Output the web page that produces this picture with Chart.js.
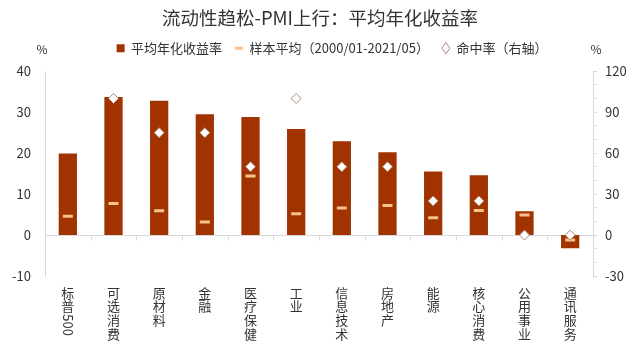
<!DOCTYPE html>
<html>
<head>
<meta charset="utf-8">
<script src="https://cdn.jsdelivr.net/npm/chart.js@4.4.0/dist/chart.umd.min.js"></script>
<style>
html,body{margin:0;padding:0;background:#fff;}
#wrap{width:640px;height:355px;position:relative;}
</style>
</head>
<body>
<div id="wrap"><canvas id="c" width="640" height="355"></canvas></div>
<script>
const categories = ['标普500','可选消费','原材料','金融','医疗保健','工业','信息技术','房地产','能源','核心消费','公用事业','通讯服务'];
const annualReturn = [19.9, 33.7, 32.8, 29.5, 28.8, 25.9, 22.9, 20.2, 15.5, 14.6, 5.8, -3.2];
const sampleAverage = [4.6, 7.7, 5.9, 3.2, 14.4, 5.2, 6.6, 7.2, 4.2, 6.0, 4.9, -1.2];
const hitRate = [null, 100, 75, 75, 50, 100, 50, 50, 25, 25, 0, 0];
const leftTicks = [-10, 0, 10, 20, 30, 40];
const rightTicks = [-30, 0, 30, 60, 90, 120];
const rightMinorTicks = [-30, -20, -10, 0, 10, 20, 30, 40, 50, 60, 70, 80, 90, 100, 110, 120];

const FONT = '"Noto Sans CJK SC", "Microsoft YaHei", sans-serif';
const TEXT = '#333333';
const AXIS = '#d9d9d9';
const LABEL_SIZE = 13;
const LABEL_LH = 1.05;
const X_PAD = 10;

// split labels into vertical stacks; the Latin digits of the first label are drawn rotated
function splitLabel(lbl) {
  const m = lbl.match(/^(\D+)(\d+)$/);
  return m ? { stack: Array.from(m[1]), rotated: m[2] } : { stack: Array.from(lbl), rotated: null };
}

const extras = {
  id: 'extras',
  beforeLayout(chart) {
    const lg = chart.legend;
    if (lg && !lg._patched) {
      const orig = lg.fit;
      lg.fit = function () {
        orig.call(this);
        this.height += 6.5;
        if (this.lineWidths) this.lineWidths = this.lineWidths.map(w => w - 24);
      };
      lg._patched = true;
    }
  },
  beforeDatasetsDraw(chart) {
    const ctx = chart.ctx;
    const x = chart.scales.x, y = chart.scales.y;
    const y0 = Math.round(y.getPixelForValue(0)) + 0.5;
    const area = chart.chartArea;
    ctx.save();
    ctx.strokeStyle = AXIS;
    ctx.lineWidth = 1;
    ctx.beginPath();
    ctx.moveTo(area.left, y0);
    ctx.lineTo(area.right, y0);
    for (let i = 1; i < categories.length; i++) {
      const px = Math.round((x.getPixelForValue(i - 1) + x.getPixelForValue(i)) / 2) + 0.5;
      ctx.moveTo(px, y0);
      ctx.lineTo(px, y0 + 5);
    }
    ctx.stroke();
    ctx.restore();
  },
  afterDraw(chart) {
    const ctx = chart.ctx;
    const x = chart.scales.x;
    ctx.save();
    ctx.fillStyle = TEXT;
    ctx.font = '12px ' + FONT;
    ctx.textAlign = 'center';
    ctx.textBaseline = 'middle';
    ctx.fillText('%', 42, 49);
    ctx.fillText('%', 596, 49);
    categories.forEach((c, i) => {
      const parts = splitLabel(c);
      if (!parts.rotated) return;
      const cx = x.getPixelForValue(i);
      const startY = x.top + X_PAD + parts.stack.length * LABEL_SIZE * LABEL_LH + 1;
      ctx.save();
      ctx.translate(cx, startY);
      ctx.rotate(Math.PI / 2);
      ctx.font = '13px ' + FONT;
      ctx.textAlign = 'left';
      ctx.textBaseline = 'middle';
      ctx.fillText(parts.rotated, 0, 0);
      ctx.restore();
    });
    ctx.restore();
  }
};

new Chart(document.getElementById('c'), {
  data: {
    labels: categories,
    datasets: [
      {
        type: 'bar',
        label: '平均年化收益率',
        data: annualReturn,
        backgroundColor: '#A03300',
        borderWidth: 0,
        barPercentage: 0.4,
        categoryPercentage: 1,
        pointStyle: 'rect',
        yAxisID: 'y',
        order: 3
      },
      {
        type: 'line',
        label: '样本平均（2000/01-2021/05）',
        data: sampleAverage,
        showLine: false,
        pointStyle: 'line',
        pointRadius: 5,
        pointHoverRadius: 5,
        pointBorderWidth: 3,
        borderColor: '#F9C18C',
        backgroundColor: '#F9C18C',
        pointBorderColor: '#F9C18C',
        yAxisID: 'y',
        order: 2
      },
      {
        type: 'line',
        label: '命中率（右轴）',
        data: hitRate,
        showLine: false,
        pointStyle: 'rectRot',
        pointRadius: 5,
        pointHoverRadius: 5,
        pointBorderWidth: 1,
        borderColor: '#B08272',
        backgroundColor: '#ffffff',
        pointBorderColor: '#B08272',
        pointBackgroundColor: '#ffffff',
        yAxisID: 'y1',
        order: 1
      }
    ]
  },
  options: {
    responsive: false,
    animation: false,
    layout: { padding: 0 },
    plugins: {
      tooltip: { enabled: false },
      title: {
        display: true,
        text: '流动性趋松-PMI上行：平均年化收益率',
        color: TEXT,
        font: { family: FONT, size: 18.5, weight: 'normal', lineHeight: 1.2 },
        padding: { top: 6.5, bottom: 0 }
      },
      legend: {
        display: true,
        labels: {
          color: TEXT,
          font: { family: FONT, size: 13 },
          usePointStyle: true,
          boxHeight: 8,
          pointStyleWidth: 8,
          padding: 13,
          sort: (a, b) => a.datasetIndex - b.datasetIndex
        }
      }
    },
    scales: {
      x: {
        type: 'category',
        position: 'bottom',
        grid: { display: false, drawTicks: false },
        border: { display: false },
        ticks: {
          color: TEXT,
          font: { family: FONT, size: LABEL_SIZE, lineHeight: LABEL_LH },
          maxRotation: 0,
          minRotation: 0,
          autoSkip: false,
          padding: X_PAD,
          callback(value) {
            return splitLabel(this.getLabelForValue(value)).stack;
          }
        },
        afterFit(scale) { scale.height = 79; }
      },
      y: {
        position: 'left',
        min: -10,
        max: 40,
        afterBuildTicks(scale) { scale.ticks = leftTicks.map(v => ({ value: v })); },
        grid: { display: false, drawTicks: false },
        border: { display: true, color: AXIS, width: 1 },
        ticks: {
          color: TEXT,
          font: { family: FONT, size: 13 },
          padding: 14,
          autoSkip: false
        },
        afterFit(scale) { scale.width = 45; }
      },
      y1: {
        position: 'right',
        min: -30,
        max: 120,
        afterBuildTicks(scale) { scale.ticks = rightMinorTicks.map(v => ({ value: v })); },
        ticks: {
          color: TEXT,
          font: { family: FONT, size: 13 },
          padding: 8,
          autoSkip: false,
          callback(v) { return rightTicks.includes(v) ? String(v) : ''; }
        },
        grid: { display: true, drawOnChartArea: false, drawTicks: true, tickLength: 4, color: AXIS },
        border: { display: true, color: AXIS, width: 1 },
        afterFit(scale) { scale.width = 47; }
      }
    }
  },
  plugins: [extras]
});
</script>
</body>
</html>
